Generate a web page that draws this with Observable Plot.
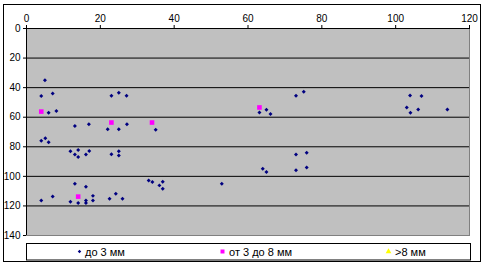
<!DOCTYPE html>
<html>
<head>
<meta charset="utf-8">
<script src="https://cdn.jsdelivr.net/npm/d3@7"></script>
<script src="https://cdn.jsdelivr.net/npm/@observablehq/plot@0.6"></script>
<style>
  html, body { margin: 0; padding: 0; background: #fff; }
  #chart { position: relative; width: 485px; height: 267px; }
</style>
</head>
<body>
<div id="chart"></div>
<script>
// Series "до 3 мм"
const smallX = [5, 4, 7.1, 6, 8.1, 13.1, 16.9, 4, 5.1, 6, 11.9, 13.1, 14, 14, 16.1, 17,
  13.1, 16.1, 4, 7.1, 11.9, 14, 16.1, 16.1, 18, 18,
  25, 23, 27.1, 27.2, 22, 25, 35, 23, 25, 25, 33.1, 34.1, 36.9, 36, 36.9, 24.2, 22.5, 26,
  52.9, 73, 75.1, 63.1, 65, 66.1, 73, 75.9, 64, 65, 73, 75.9,
  103.9, 107, 103, 104, 106.1, 114];
const smallY = [35, 45.6, 44, 57, 55.8, 66, 64.7, 76, 74.2, 76.9, 83.1, 85.3, 82.1, 86.9, 85.3, 82.8,
  105, 107, 116.3, 113.7, 117.2, 118.1, 116.3, 118.1, 113.2, 116.3,
  43.4, 45.5, 45.5, 64.7, 68.2, 68.2, 68.4, 85, 83, 85.9, 102.8, 103.8, 103.7, 106.1, 108.4, 111.8, 115.1, 115.1,
  105, 45.5, 42.8, 56.8, 54.9, 57.9, 85.3, 84, 94.8, 97, 95.9, 94,
  45.3, 45.7, 53.4, 57, 54.8, 54.8];
// Series "от 3 до 8 мм"
const midX = [4, 23, 34, 14, 63.1];
const midY = [56.2, 63.6, 63.6, 113.7, 53.4];
// Series ">8 мм" (no points visible)
const largeX = [];
const largeY = [];

const seriesNames = ["до 3 мм", "от 3 до 8 мм", ">8 мм"];
const xTicks = [0, 20, 40, 60, 80, 100, 120];
const yTicks = [0, 20, 40, 60, 80, 100, 120, 140];
const yGrid = [20, 40, 60, 80, 100, 120];

const small = smallX.map((x, i) => ({x, y: smallY[i]}));
const mid = midX.map((x, i) => ({x, y: midY[i]}));
const large = largeX.map((x, i) => ({x, y: largeY[i]}));

const font = "Liberation Sans, Arial, sans-serif";

const svg = Plot.plot({
  width: 485,
  height: 267,
  marginLeft: 26,
  marginRight: 16,
  marginTop: 28,
  marginBottom: 32,
  style: {background: "#fff", fontFamily: font, fontSize: "10px", color: "#000"},
  x: {domain: [0, 120]},
  y: {domain: [0, 140], reverse: true},
  marks: [
    Plot.frame({fill: "#c0c0c0", stroke: "#808080"}),
    Plot.ruleY(yGrid, {stroke: "#000", strokeWidth: 1}),
    Plot.axisX({anchor: "top", ticks: xTicks, tickSize: 4, tickPadding: 3, label: null, stroke: "#000", strokeOpacity: 1}),
    Plot.axisY({anchor: "left", ticks: yTicks, tickSize: 3, tickPadding: 3, label: null, stroke: "#000", strokeOpacity: 1}),
    Plot.ruleY([0], {stroke: "#000"}),
    Plot.ruleX([0], {stroke: "#000"}),
    Plot.dot(small, {x: "x", y: "y", symbol: "diamond2", r: 1.8, fill: "#000080", stroke: "none"}),
    Plot.dot(mid, {x: "x", y: "y", symbol: "square", r: 2.6, fill: "#ff00ff", stroke: "none"}),
    Plot.dot(large, {x: "x", y: "y", symbol: "triangle", r: 2.5, fill: "#ffff00", stroke: "none"})
  ]
});

const s = d3.select(svg);
// outer chart frame
s.append("rect").attr("x", 3.5).attr("y", 4.5).attr("width", 477).attr("height", 257)
  .attr("fill", "none").attr("stroke", "#000");
// legend
const lg = s.append("g").attr("font-family", font).attr("font-size", "11px").attr("text-anchor", "start");
lg.append("rect").attr("x", 26.5).attr("y", 243.5).attr("width", 444).attr("height", 16.5)
  .attr("fill", "#fff").attr("stroke", "#000");
const items = [
  {sym: d3.symbolDiamond2, size: 8, color: "#000080", mx: 79.5, tx: 85},
  {sym: d3.symbolSquare, size: 16, color: "#ff00ff", mx: 222.5, tx: 229},
  {sym: d3.symbolTriangle, size: 14, color: "#ffff00", mx: 388.5, tx: 395}
];
items.forEach((it, i) => {
  lg.append("path").attr("d", d3.symbol(it.sym, it.size)())
    .attr("transform", `translate(${it.mx},${251.5})`).attr("fill", it.color);
  lg.append("text").attr("x", it.tx).attr("y", 256).attr("text-anchor", "start")
    .text(seriesNames[i]).attr("fill", "#000");
});

document.getElementById("chart").appendChild(svg);
</script>
</body>
</html>
